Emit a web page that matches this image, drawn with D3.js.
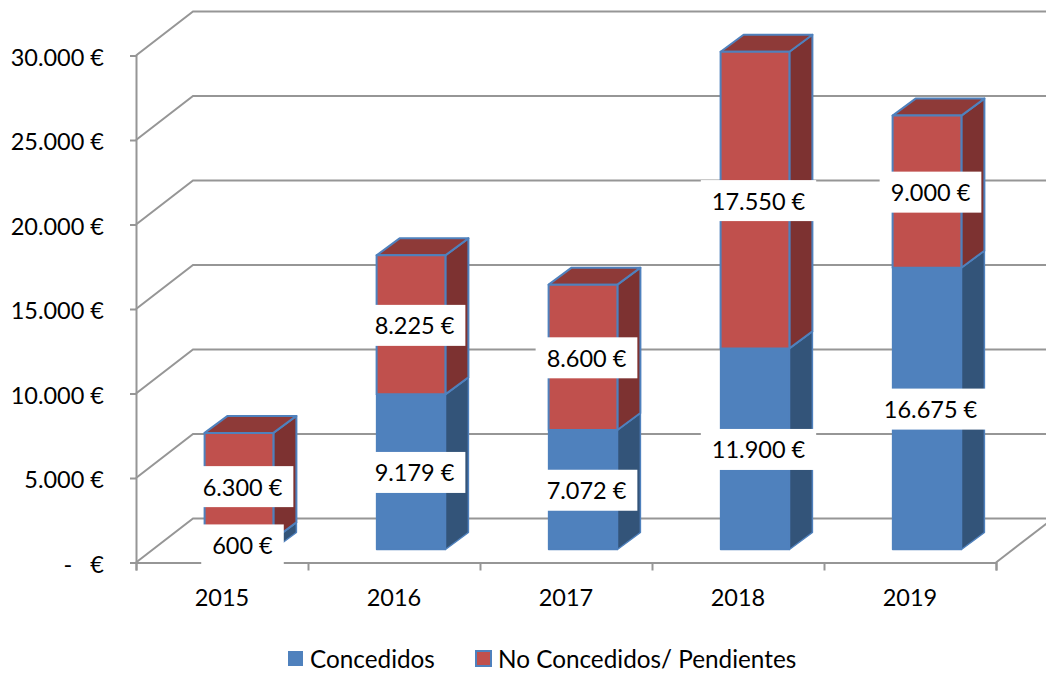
<!DOCTYPE html>
<html>
<head>
<meta charset="utf-8">
<script src="https://cdnjs.cloudflare.com/ajax/libs/d3/7.8.5/d3.min.js"></script>
<style>
  html, body { margin: 0; background: #fff; }
  svg { display: block; }
  text { font-family: Lato, "Open Sans", sans-serif; fill: #000; }
</style>
</head>
<body>
<div id="chart"></div>
<script>
const years = ["2015", "2016", "2017", "2018", "2019"];
const concedidos = [600, 9179, 7072, 11900, 16675];
const noConcedidos = [6300, 8225, 8600, 17550, 9000];
const seriesNames = ["Concedidos", "No Concedidos/ Pendientes"];
const yTicks = [0, 5000, 10000, 15000, 20000, 25000, 30000];

const width = 1046, height = 673;
const wall = { dx: 57, dy: 44 };   // fondo de la caja 3D
const depth = { dx: 23, dy: 17 };  // profundidad de cada columna
const base = { dx: 17, dy: 13 };   // columna separada del borde del suelo

const fmtEuro = v => v === 0 ? "-\u00A0\u00A0\u00A0€" : d3.format(",")(v).replace(/,/g, ".") + " €";

const svg = d3.select("#chart").append("svg")
  .attr("width", width)
  .attr("height", height)
  .attr("viewBox", [0, 0, width, height]);

const x = d3.scaleBand().domain(years).range([136, 996]).padding(0);
const y = d3.scaleLinear().domain([0, 30000]).range([562.5, 55.5]);
const barW = x.bandwidth() * 0.4;

const gray = "#969696";

// Paredes: lineas del fondo + diagonales
const grid = svg.append("g").attr("fill", "none").attr("stroke", gray).attr("stroke-width", 2);
grid.selectAll("path")
  .data(yTicks)
  .join("path")
  .attr("d", d => `M${x.range()[0]},${y(d)}L${x.range()[0] + wall.dx},${y(d) - wall.dy}L${width},${y(d) - wall.dy}`);
grid.append("path")
  .attr("d", `M${x.range()[1]},${y(0)}L${x.range()[1] + wall.dx},${y(0) - wall.dy}`);

// Ejes
const axY = svg.append("g")
  .attr("transform", `translate(${x.range()[0]},0)`)
  .call(d3.axisLeft(y).tickValues(yTicks).tickFormat(fmtEuro).tickSize(6).tickPadding(26));
const axX = svg.append("g")
  .attr("transform", `translate(0,${y(0)})`)
  .call(d3.axisBottom(d3.scalePoint().domain(d3.range(6)).range(x.range())).tickSize(8).tickFormat(""));
const axL = svg.append("g")
  .attr("transform", `translate(0,${y(0)})`)
  .call(d3.axisBottom(x).tickSize(0).tickPadding(27));
axL.select(".domain").remove();

[axY, axX].forEach(a => a.selectAll(".domain, .tick line").attr("stroke", gray).attr("stroke-width", 2));
axY.selectAll("text").style("font-size", "23.5px").attr("dy", "0.42em").style("font-family", "Lato");
axL.selectAll("text").style("font-size", "23.5px").style("font-family", "Lato");

// Columnas apiladas
const rows = years.map((yr, i) => ({ year: yr, a: concedidos[i], b: noConcedidos[i] }));
const stacked = d3.stack().keys(["a", "b"])(rows);
const faces = [
  { front: "#4f81bd", side: "#335479", top: "#3f6797" },
  { front: "#c0504d", side: "#7d3231", top: "#8e3a38" }
];
const barX = d => x(d.data.year) + x.bandwidth() / 2 + base.dx - barW / 2;
const barY = v => y(v) - base.dy;

const bars = svg.append("g");
stacked.forEach((s, k) => {
  const f = faces[k];
  const g = bars.append("g")
    .attr("stroke", "#4f81bd")
    .attr("stroke-width", k ? 2 : 1.5)
    .attr("stroke-linejoin", "round");
  g.selectAll("path.side")
    .data(s)
    .join("path")
    .attr("class", "side")
    .attr("fill", f.side)
    .attr("d", d => {
      const r = barX(d) + barW;
      return `M${r},${barY(d[0])}L${r + depth.dx},${barY(d[0]) - depth.dy}L${r + depth.dx},${barY(d[1]) - depth.dy}L${r},${barY(d[1])}Z`;
    });
  g.selectAll("path.top")
    .data(s)
    .join("path")
    .attr("class", "top")
    .attr("fill", f.top)
    .attr("d", d => {
      const l = barX(d), t = barY(d[1]);
      return `M${l},${t}L${l + depth.dx},${t - depth.dy}L${l + barW + depth.dx},${t - depth.dy}L${l + barW},${t}Z`;
    });
  g.selectAll("rect")
    .data(s)
    .join("rect")
    .attr("fill", f.front)
    .attr("x", barX)
    .attr("y", d => barY(d[1]))
    .attr("width", barW)
    .attr("height", d => barY(d[0]) - barY(d[1]));
});

// Etiquetas con fondo blanco
const labels = svg.append("g");
stacked.forEach(s => {
  s.forEach(d => {
    const v = d[1] - d[0];
    const cx = barX(d) + barW / 2 + 3.5;
    const cy = (barY(d[0]) + barY(d[1])) / 2 + 0.5;
    const lab = labels.append("g");
    const t = lab.append("text")
      .attr("x", cx)
      .attr("y", cy)
      .attr("dy", "0.38em")
      .attr("text-anchor", "middle")
      .style("font-size", "23.5px")
      .text(fmtEuro(v));
    const w = t.node().getComputedTextLength();
    lab.insert("rect", "text")
      .attr("fill", "#fff")
      .attr("x", cx - w / 2 - 11)
      .attr("y", cy - 20.5)
      .attr("width", w + 22)
      .attr("height", 41);
  });
});

// Leyenda
const legendX = d3.scalePoint().domain(seriesNames).range([288, 476]);
const legend = svg.append("g").selectAll("g")
  .data(seriesNames)
  .join("g")
  .attr("transform", d => `translate(${legendX(d)},651)`);
legend.append("rect")
  .attr("width", 15)
  .attr("height", 15)
  .attr("fill", (d, i) => faces[i].front)
  .attr("stroke", (d, i) => i ? "#4f81bd" : "none")
  .attr("stroke-width", 2);
legend.append("text")
  .attr("x", 22)
  .attr("y", 8)
  .attr("dy", "0.35em")
  .style("font-size", "24.3px")
  .text(d => d);
</script>
</body>
</html>
